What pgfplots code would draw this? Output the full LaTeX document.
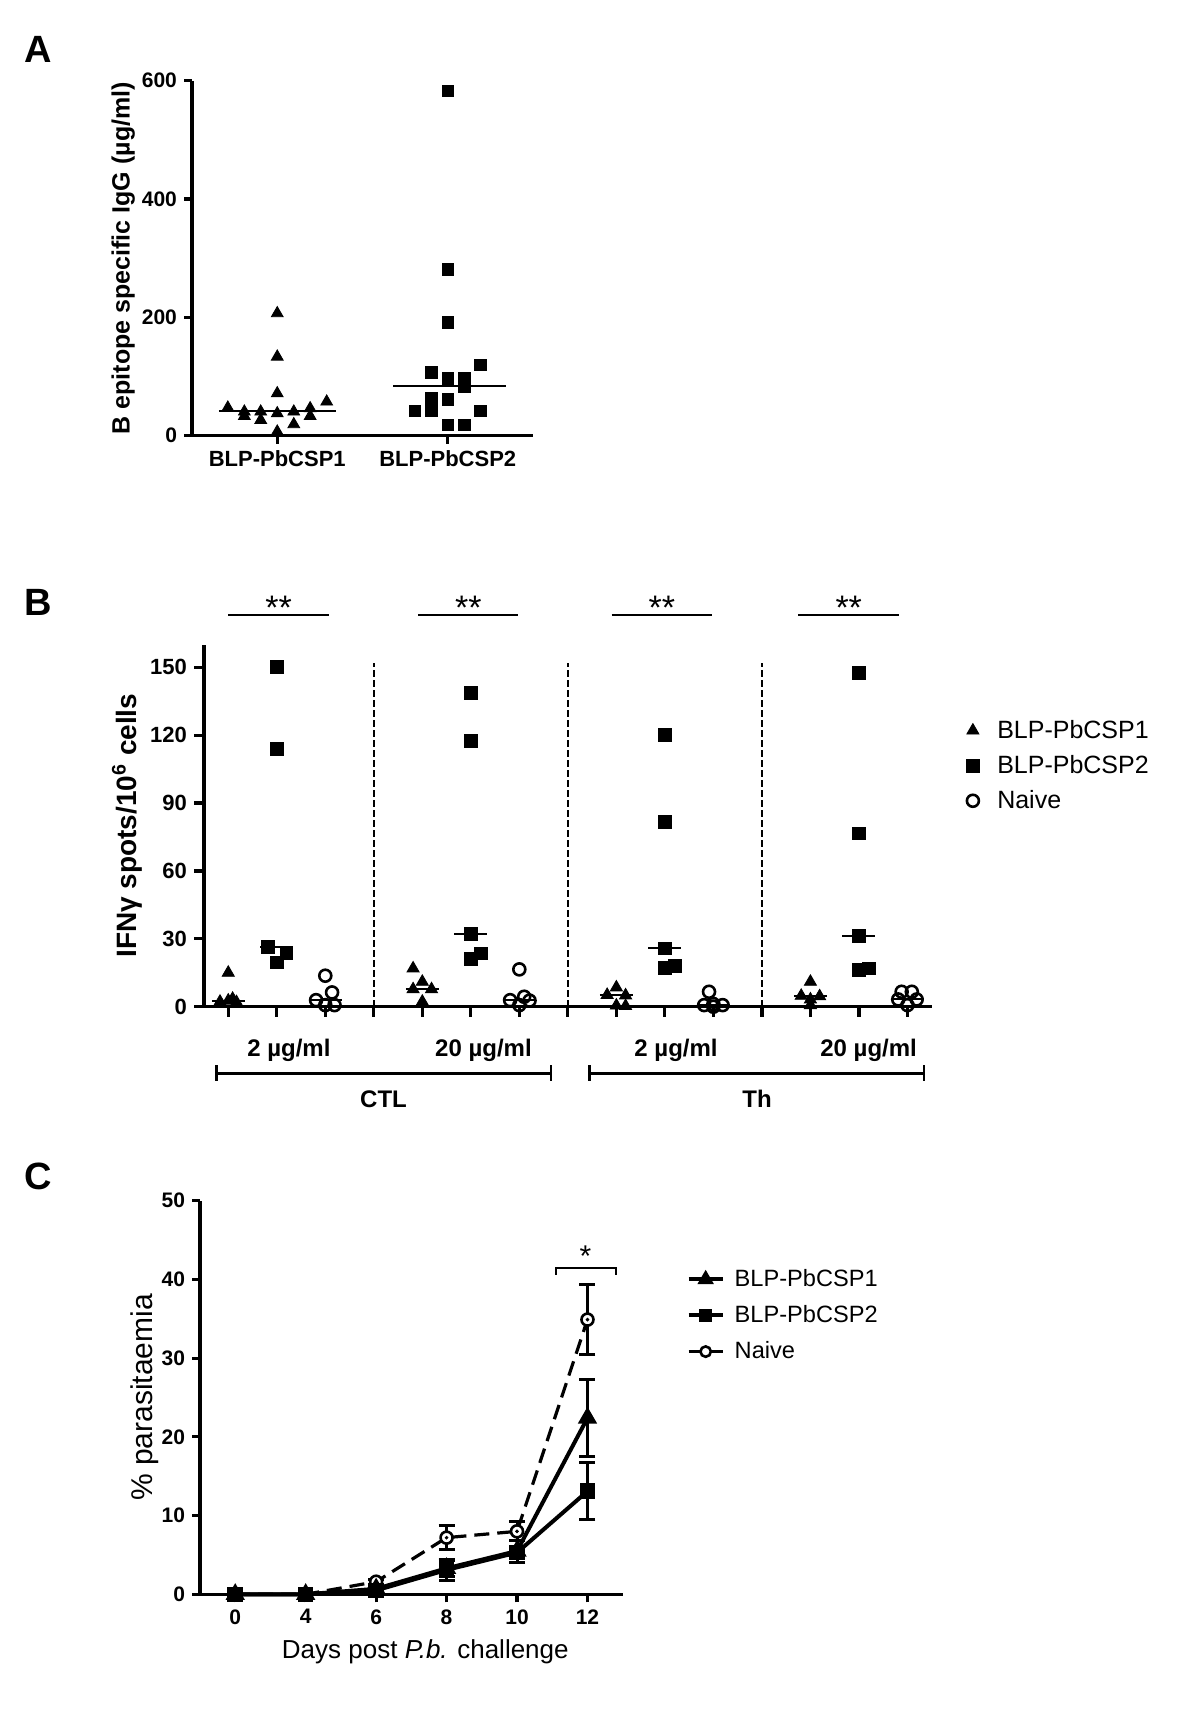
\documentclass[border=0pt]{standalone}
\usepackage{fontspec}
\setmainfont{Liberation Sans}
\usepackage{pgfplots}
\pgfplotsset{compat=1.18}
\pgfplotsset{
 gp/.style={scale only axis, clip=false, axis lines=left,
   axis line style={-, line width=1.6pt},
   every outer x axis line/.append style={-},
   every outer y axis line/.append style={-},
   tick align=outside, major tick length=4pt,
   every tick/.style={black, line width=1.6pt},
   /pgf/number format/assume math mode=true},
}
\begin{document}
\begin{tikzpicture}
\path[use as bounding box] (0,0) rectangle (600pt,-855.5pt);

% ---------------- Panel A ----------------
\node[font=\bfseries\fontsize{19}{19}\selectfont] at (19pt,-24.5pt) {A};
\begin{axis}[gp, at={(96pt,-217.85pt)}, anchor=south west,
  width=170.5pt, height=177.5pt,
  xmin=0.5, xmax=2.5, ymin=0, ymax=600,
  xtick={1,2}, xticklabels={BLP-PbCSP1,BLP-PbCSP2},
  ytick={0,200,400,600},
  y tick label style={font=\bfseries\fontsize{10.5}{10.5}\selectfont},
  x tick label style={font=\bfseries\fontsize{11}{11}\selectfont},
  ylabel={B epitope specific IgG (µg/ml)},
  ylabel style={font=\bfseries\fontsize{12.5}{12.5}\selectfont, at={(axis description cs:-0.202,0.5)}, anchor=center},
]
\addplot[only marks, mark=triangle*, mark size=3.4pt] coordinates {
 (0.710,47.3) (0.807,40.6) (0.807,33.2) (0.903,40.6) (0.903,26.5)
 (1,206.8) (1,133.5) (1,71.5) (1,37.7) (1,6.8)
 (1.097,40.6) (1.097,19.2) (1.193,46.2) (1.193,33.2) (1.290,57.5)};
\addplot[only marks, mark=square*, mark size=2.9pt] coordinates {
 (2,583) (2,281) (2,191) (1.903,106.5) (2.193,119.4)
 (2,96.9) (2.097,96.9) (2.097,82.8) (1.903,63.1) (2,61.4)
 (1.807,41.7) (1.903,41.7) (2.193,41.7) (2,18) (2.097,18)};
\addplot[line width=1pt] coordinates {(0.658,42.3) (1.342,42.3)};
\addplot[line width=1pt] coordinates {(1.68,84.5) (2.34,84.5)};
\end{axis}

% ---------------- Panel B ----------------
\node[font=\bfseries\fontsize{19}{19}\selectfont] at (19pt,-301pt) {B};
\begin{axis}[gp, at={(102pt,-503.35pt)}, anchor=south west,
  width=363.85pt, height=181.05pt,
  xmin=0.5, xmax=15.5, ymin=0, ymax=160,
  xtick={1,...,15}, xticklabels={},
  ytick={0,30,...,150}, major tick length=5pt,
  y tick label style={font=\bfseries\fontsize{11}{11}\selectfont},
  ylabel={IFNγ spots/10\textsuperscript{6} cells},
  ylabel style={font=\bfseries\fontsize{14}{14}\selectfont, at={(axis description cs:-0.106,0.5)}, anchor=center},
  legend style={draw=none, fill=none, at={(1.039,0.815)}, anchor=north west,
    font=\fontsize{12.5}{12.5}\selectfont, row sep=3pt, legend cell align=left},
]
\addplot[only marks, mark=triangle*, mark size=3.5pt] coordinates {
 (1,15) (1.09,3.5) (1,2.7) (0.83,2.2) (1.17,2.0)
 (4.81,16.9) (5,11) (4.81,7.7) (5.19,7.7) (5,2.2)
 (9,8.5) (8.81,5.2) (9.19,5.0) (9,0.5) (9.19,0.3)
 (13,11) (12.81,4.8) (13.19,4.6) (13,3.2) (13,0.7)};
\addplot[only marks, mark=square*, mark size=3.2pt] coordinates {
 (2,150) (2,113.9) (1.81,26.5) (2,19.6) (2.2,23.6)
 (6,138.5) (6,117.4) (6,32.1) (6,21.1) (6.21,23.6)
 (10,120.1) (10,81.5) (10,25.8) (10,17.2) (10.21,18.0)
 (14,147.6) (14,76.6) (14,31.4) (14,16.2) (14.21,16.9)};
\addplot[only marks, mark=o, mark size=3pt, mark options={line width=1.3pt}] coordinates {
 (3,13.7) (3.14,6.3) (2.81,2.9) (3,0.7) (3.19,0.7)
 (7,16.5) (6.81,2.9) (7.1,4.4) (7.21,2.7) (7,0.7)
 (10.91,6.6) (10.81,0.7) (11,1.2) (11.19,0.7) (11,0)
 (14.88,6.6) (15.09,6.6) (14.81,3.2) (15.19,3.2) (15,0.7)};
\legend{\hspace{7pt}BLP-PbCSP1,\hspace{7pt}BLP-PbCSP2,\hspace{7pt}Naive}
\addplot[line width=1pt, forget plot] coordinates {(0.66,2.7) (1.34,2.7)};
\addplot[line width=1pt, forget plot] coordinates {(1.66,26.5) (2.34,26.5)};
\addplot[line width=1pt, forget plot] coordinates {(2.66,2.9) (3.34,2.9)};
\addplot[line width=1pt, forget plot] coordinates {(4.66,7.7) (5.34,7.7)};
\addplot[line width=1pt, forget plot] coordinates {(5.66,32.1) (6.34,32.1)};
\addplot[line width=1pt, forget plot] coordinates {(6.66,2.9) (7.34,2.9)};
\addplot[line width=1pt, forget plot] coordinates {(8.66,5.0) (9.34,5.0)};
\addplot[line width=1pt, forget plot] coordinates {(9.66,25.8) (10.34,25.8)};
\addplot[line width=1pt, forget plot] coordinates {(10.66,0.7) (11.34,0.7)};
\addplot[line width=1pt, forget plot] coordinates {(12.66,4.6) (13.34,4.6)};
\addplot[line width=1pt, forget plot] coordinates {(13.66,31.4) (14.34,31.4)};
\addplot[line width=1pt, forget plot] coordinates {(14.66,3.2) (15.34,3.2)};
% separators
\draw[line width=0.7pt, dash pattern=on 3.5pt off 1.5pt] (axis cs:4,0) -- (axis cs:4,152);
\draw[line width=0.7pt, dash pattern=on 3.5pt off 1.5pt] (axis cs:8,0) -- (axis cs:8,152);
\draw[line width=0.7pt, dash pattern=on 3.5pt off 1.5pt] (axis cs:12,0) -- (axis cs:12,152);
% significance
\draw[line width=1.3pt] (axis cs:1,173) -- (axis cs:3.07,173);
\draw[line width=1.3pt] (axis cs:4.92,173) -- (axis cs:6.98,173);
\draw[line width=1.3pt] (axis cs:8.9,173) -- (axis cs:10.98,173);
\draw[line width=1.3pt] (axis cs:12.75,173) -- (axis cs:14.83,173);
\node[anchor=base, font=\fontsize{17}{17}\selectfont, inner sep=0pt] at (axis cs:2.04,171.3) {**};
\node[anchor=base, font=\fontsize{17}{17}\selectfont, inner sep=0pt] at (axis cs:5.95,171.3) {**};
\node[anchor=base, font=\fontsize{17}{17}\selectfont, inner sep=0pt] at (axis cs:9.94,171.3) {**};
\node[anchor=base, font=\fontsize{17}{17}\selectfont, inner sep=0pt] at (axis cs:13.79,171.3) {**};
% group labels
\node[font=\bfseries\fontsize{12}{12}\selectfont] at (axis cs:2.25,-19.1) {2 µg/ml};
\node[font=\bfseries\fontsize{12}{12}\selectfont] at (axis cs:6.26,-19.1) {20 µg/ml};
\node[font=\bfseries\fontsize{12}{12}\selectfont] at (axis cs:10.23,-19.1) {2 µg/ml};
\node[font=\bfseries\fontsize{12}{12}\selectfont] at (axis cs:14.2,-19.1) {20 µg/ml};
\draw[line width=1.3pt] (axis cs:0.76,-29.4) -- (axis cs:7.65,-29.4);
\draw[line width=1.3pt] (axis cs:0.76,-25.8) -- (axis cs:0.76,-33.0);
\draw[line width=1.3pt] (axis cs:7.65,-25.8) -- (axis cs:7.65,-33.0);
\draw[line width=1.3pt] (axis cs:8.44,-29.4) -- (axis cs:15.34,-29.4);
\draw[line width=1.3pt] (axis cs:8.44,-25.8) -- (axis cs:8.44,-33.0);
\draw[line width=1.3pt] (axis cs:15.34,-25.8) -- (axis cs:15.34,-33.0);
\node[font=\bfseries\fontsize{12}{12}\selectfont] at (axis cs:4.2,-40.8) {CTL};
\node[font=\bfseries\fontsize{12}{12}\selectfont] at (axis cs:11.9,-40.8) {Th};
\end{axis}

% ---------------- Panel C ----------------
\node[font=\bfseries\fontsize{19}{19}\selectfont] at (19pt,-588pt) {C};
\begin{axis}[gp, at={(100pt,-797.15pt)}, anchor=south west,
  width=211.35pt, height=196.8pt,
  xmin=-0.5, xmax=5.5, ymin=0, ymax=50,
  xtick={0,...,5}, xticklabels={0,4,6,8,10,12},
  ytick={0,10,...,50},
  tick label style={font=\bfseries\fontsize{10.5}{10.5}\selectfont},
  xlabel={Days post \textit{P.b.} challenge},
  xlabel style={font=\fontsize{13}{13}\selectfont, at={(axis description cs:0.533,-0.147)}, anchor=center},
  ylabel={\% parasitaemia},
  ylabel style={font=\fontsize{15}{15}\selectfont, at={(axis description cs:-0.13,0.5)}, anchor=center},
  legend style={draw=none, fill=none, at={(1.136,0.847)}, anchor=north west,
    font=\fontsize{11.8}{11.8}\selectfont, row sep=4pt, legend cell align=left},
]
\addlegendimage{line width=2pt, mark=triangle*, mark size=2.8pt}
\addlegendentry{\hspace{3pt}BLP-PbCSP1}
\addlegendimage{line width=2pt, mark=square*, mark size=2.4pt}
\addlegendentry{\hspace{3pt}BLP-PbCSP2}
\addlegendimage{line width=1.6pt, mark=*, mark size=2.6pt, mark options={fill=white, line width=1.3pt}}
\addlegendentry{\hspace{3pt}Naive}
\addplot[forget plot, line width=1.6pt, dash pattern=on 7.5pt off 4pt, mark=*, mark size=3pt,
  mark options={solid, fill=white, line width=1.3pt},
  error bars/.cd, y dir=both, y explicit,
  error bar style={line width=1.5pt, solid},
  error mark options={rotate=90, mark size=4pt, line width=1.5pt}]
 coordinates {(0,0) +- (0,0) (1,0) +- (0,0) (2,1.6) +- (0,0.3) (3,7.2) +- (0,1.55) (4,8.0) +- (0,1.2) (5,34.9) +- (0,4.4)};
\addplot[only marks, mark=*, mark size=0.7pt, forget plot] coordinates {(3,7.2) (4,8.0) (5,34.9)};
\addplot[forget plot, line width=2pt, mark=triangle*, mark size=3.6pt, mark options={solid},
  error bars/.cd, y dir=both, y explicit,
  error bar style={line width=1.5pt, solid},
  error mark options={rotate=90, mark size=4pt, line width=1.5pt}]
 coordinates {(0,0) +- (0,0) (1,0) +- (0,0) (2,0.7) +- (0,0.3) (3,3.3) +- (0,1.0) (4,5.5) +- (0,1.4) (5,22.4) +- (0,4.9)};
\addplot[forget plot, line width=2pt, mark=square*, mark size=2.9pt, mark options={solid},
  error bars/.cd, y dir=both, y explicit,
  error bar style={line width=1.5pt, solid},
  error mark options={rotate=90, mark size=4pt, line width=1.5pt}]
 coordinates {(0,0) +- (0,0) (1,0) +- (0,0) (2,0.5) +- (0,0.3) (3,3.1) +- (0,1.35) (4,5.3) +- (0,0.6) (5,13.1) +- (0,3.6)};
\draw[line width=1pt] (axis cs:4.56,40.6) -- (axis cs:4.56,41.5) -- (axis cs:5.4,41.5) -- (axis cs:5.4,40.6);
\node[anchor=base, font=\fontsize{15}{15}\selectfont, inner sep=0pt] at (axis cs:4.97,41.6) {*};
\end{axis}
\end{tikzpicture}
\end{document}
